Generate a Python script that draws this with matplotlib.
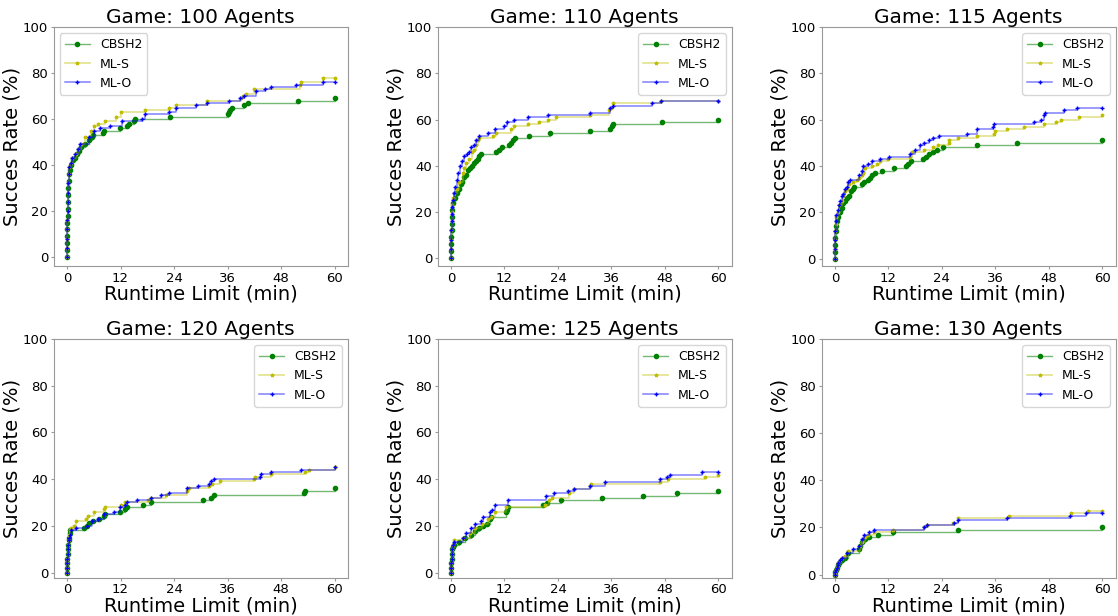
import matplotlib
matplotlib.use('Agg')
import matplotlib.pyplot as plt

# agent counts for each panel
agents = [100, 110, 115, 120, 125, 130]

# success rate (%) vs runtime (min)
# ---- 100 agents
t_cb_100 = [0, 0.02, 0.04, 0.06, 0.08, 0.1, 0.12, 0.15, 0.18, 0.22, 0.27, 0.33, 0.4, 0.6, 0.9, 1.3, 1.7, 2.2, 2.7, 3.2, 4.0, 4.9, 5.6, 5.9, 8.0, 8.3, 11.8, 13.4, 14.0, 15.0, 15.3, 23.1, 36.0, 36.3, 36.6, 36.9, 39.8, 40.5, 51.9, 60]
v_cb_100 = [0, 3, 6, 9, 12, 15, 18, 21, 24, 27, 30, 33, 36, 38, 40, 42, 43, 45, 46, 48, 49, 51, 52, 53, 54, 55, 56, 57, 58, 59, 60, 61, 62, 63, 64, 65, 66, 67, 68, 69]
t_ms_100 = [0, 0.02, 0.05, 0.08, 0.1, 0.13, 0.17, 0.22, 0.28, 0.35, 0.5, 0.8, 1.2, 1.9, 2.5, 3.2, 4.1, 5.3, 6.0, 6.9, 8.6, 10.9, 12.0, 17.6, 22.9, 24.4, 31.5, 39.0, 39.5, 40.2, 42.0, 52.2, 52.5, 57.4, 60]
v_ms_100 = [0, 4, 8, 12, 16, 20, 24, 28, 32, 36, 39, 41, 43, 45, 47, 49, 52, 55, 57, 58, 59, 61, 63, 64, 65, 66, 68, 69, 70, 71, 73, 75, 76, 78, 78]
t_mo_100 = [0, 0.02, 0.05, 0.08, 0.1, 0.13, 0.17, 0.22, 0.28, 0.35, 0.5, 0.8, 1.2, 1.8, 2.4, 3.0, 4.9, 6.0, 7.4, 9.7, 12.4, 16.9, 17.6, 22.9, 24.4, 28.9, 31.5, 36.4, 38.7, 39.8, 42.4, 44.3, 45.8, 51.4, 57.4, 60]
v_mo_100 = [0, 4, 8, 12, 16, 20, 24, 28, 32, 36, 39, 41, 43, 45, 47, 49, 52, 55, 56, 57, 59, 60, 62, 63, 65, 66, 67, 68, 69, 70, 72, 73, 74, 75, 76, 76]

# ---- 110 agents
t_cb_110 = [0, 0.03, 0.06, 0.1, 0.14, 0.18, 0.23, 0.3, 0.45, 0.8, 1.4, 1.8, 2.2, 2.5, 2.9, 3.3, 3.9, 4.3, 4.8, 5.2, 5.7, 6.0, 6.3, 6.7, 10.0, 10.8, 11.4, 13.1, 13.4, 14.0, 14.4, 17.4, 22.2, 31.1, 35.6, 36.2, 36.3, 47.4, 60]
v_cb_110 = [0, 3, 6, 9, 12, 15, 18, 21, 24, 26, 28, 30, 32, 33, 35, 36, 38, 39, 40, 41, 42, 43, 44, 45, 46, 47, 48, 49, 50, 51, 52, 53, 54, 55, 56, 57, 58, 59, 60]
t_ms_110 = [0, 0.02, 0.05, 0.08, 0.12, 0.16, 0.2, 0.35, 0.7, 1.3, 1.8, 2.6, 3.0, 3.3, 4.0, 4.8, 5.2, 5.7, 6.0, 6.3, 9.5, 10.1, 13.4, 14.2, 17.2, 19.8, 21.7, 23.6, 31.1, 35.4, 36.0, 36.3, 47.2, 60]
v_ms_110 = [0, 4, 8, 12, 16, 20, 23, 26, 28, 30, 33, 37, 39, 41, 43, 46, 47, 49, 51, 52, 53, 54, 56, 57, 58, 59, 60, 61, 62, 64, 65, 67, 68, 68]
t_mo_110 = [0, 0.02, 0.05, 0.08, 0.12, 0.16, 0.25, 0.4, 0.7, 1.0, 1.3, 1.6, 2.0, 2.5, 2.9, 3.5, 4.1, 4.6, 5.2, 5.6, 6.2, 8.2, 9.9, 11.8, 12.5, 14.2, 17.2, 21.7, 31.2, 35.6, 36.3, 45.2, 47.2, 60]
v_mo_110 = [0, 4, 8, 12, 16, 19, 22, 25, 28, 31, 34, 37, 40, 42, 44, 45, 46, 48, 49, 51, 53, 54, 56, 57, 59, 60, 61, 62, 63, 65, 66, 67, 68, 68]

# ---- 115 agents
t_cb_115 = [0, 0.03, 0.07, 0.12, 0.2, 0.3, 0.45, 0.75, 1.1, 1.5, 1.9, 2.2, 2.7, 3.2, 3.6, 4.0, 4.3, 6.0, 6.5, 7.5, 7.9, 8.3, 9.0, 10.5, 13.3, 16.0, 16.5, 17.0, 19.7, 20.5, 21.2, 22.1, 22.9, 24.2, 31.8, 40.9, 60]
v_cb_115 = [0, 3, 6, 9, 12, 14, 16, 18, 20, 22, 24, 25, 26, 27, 29, 30, 31, 32, 33, 34, 35, 36, 37, 38, 39, 40, 41, 42, 43, 44, 45, 46, 47, 48, 49, 50, 51]
t_ms_115 = [0, 0.03, 0.07, 0.12, 0.2, 0.35, 0.6, 1.0, 1.5, 1.9, 2.2, 2.6, 3.2, 4.0, 5.0, 5.5, 6.0, 6.3, 6.8, 8.3, 9.4, 10.0, 12.0, 16.9, 17.3, 19.9, 22.0, 23.1, 25.5, 25.6, 27.6, 31.8, 35.7, 36.0, 38.7, 42.4, 46.8, 49.5, 50.8, 54.8, 60]
v_ms_115 = [0, 4, 8, 12, 15, 18, 20, 23, 25, 27, 29, 30, 32, 33, 34, 35, 36, 37, 39, 40, 41, 42, 43, 44, 46, 47, 48, 49, 50, 51, 52, 53, 54, 55, 56, 57, 58, 59, 60, 61, 62]
t_mo_115 = [0, 0.03, 0.07, 0.12, 0.2, 0.35, 0.6, 0.9, 1.2, 1.5, 1.8, 2.2, 2.6, 3.0, 3.4, 5.3, 6.0, 6.4, 7.5, 8.3, 10.1, 12.2, 16.9, 18.0, 19.0, 20.0, 21.2, 22.1, 23.3, 29.6, 31.9, 35.5, 35.7, 44.7, 46.3, 46.9, 47.1, 51.4, 54.3, 60]
v_mo_115 = [0, 4, 8, 12, 16, 19, 21, 23, 25, 27, 28, 30, 31, 33, 34, 36, 38, 40, 41, 42, 43, 44, 45, 47, 49, 50, 51, 52, 53, 54, 56, 57, 58, 59, 60, 62, 63, 64, 65, 65]

# ---- 120 agents
t_cb_120 = [0, 0.03, 0.06, 0.1, 0.15, 0.2, 0.27, 0.35, 0.45, 0.6, 0.75, 3.7, 4.5, 5.0, 5.8, 7.1, 8.4, 8.6, 11.9, 13.1, 13.5, 17.1, 18.9, 30.6, 32.3, 32.9, 53.1, 53.4, 60]
v_cb_120 = [0, 2, 4, 6, 8, 10, 12, 14, 15, 17, 18, 19, 20, 21, 22, 23, 24, 25, 26, 27, 28, 29, 30, 31, 32, 33, 34, 35, 36]
t_ms_120 = [0, 0.03, 0.06, 0.1, 0.15, 0.2, 0.27, 0.35, 0.45, 0.6, 0.9, 1.5, 2.1, 4.3, 4.7, 6.0, 8.3, 8.5, 12.0, 13.1, 18.2, 18.9, 22.1, 26.9, 27.4, 31.9, 32.6, 34.4, 41.9, 42.2, 45.8, 53.4, 54.2, 60]
v_ms_120 = [0, 2, 4, 6, 8, 10, 12, 14, 16, 18, 19, 20, 22, 23, 24, 26, 27, 28, 29, 30, 31, 32, 33, 35, 36, 37, 38, 39, 40, 41, 42, 43, 44, 45]
t_mo_120 = [0, 0.03, 0.06, 0.1, 0.15, 0.2, 0.27, 0.35, 0.45, 0.6, 0.9, 1.9, 4.5, 5.6, 6.9, 8.3, 10.5, 11.9, 13.1, 13.5, 15.8, 18.8, 21.0, 22.9, 27.0, 29.3, 31.9, 32.4, 33.0, 43.2, 43.4, 45.8, 52.5, 60]
v_mo_120 = [0, 2, 4, 6, 8, 10, 12, 14, 15, 16, 18, 19, 20, 22, 23, 25, 26, 28, 29, 30, 31, 32, 33, 34, 36, 37, 38, 39, 40, 41, 42, 43, 44, 45]

# ---- 125 agents
t_cb_125 = [0, 0.05, 0.1, 0.15, 0.2, 0.3, 0.5, 0.7, 1.8, 3.2, 4.4, 5.5, 6.2, 7.1, 8.0, 8.7, 9.0, 12.4, 12.5, 12.7, 20.7, 21.5, 24.7, 33.9, 43.1, 50.6, 60]
v_cb_125 = [0, 2, 4, 6, 8, 10, 11, 12, 13, 15, 16, 18, 19, 20, 21, 23, 24, 26, 27, 28, 29, 30, 31, 32, 33, 34, 35]
t_ms_125 = [0, 0.05, 0.1, 0.15, 0.2, 0.3, 0.45, 0.7, 2.7, 4.2, 5.5, 6.9, 8.2, 9.0, 9.9, 12.3, 21.2, 22.1, 22.7, 26.4, 27.7, 31.1, 31.5, 46.9, 48.7, 57.0, 60]
v_ms_125 = [0, 2, 4, 6, 8, 10, 12, 14, 15, 17, 19, 21, 23, 24, 26, 28, 29, 31, 32, 34, 36, 37, 38, 39, 40, 41, 42]
t_mo_125 = [0, 0.05, 0.1, 0.15, 0.2, 0.3, 0.45, 0.7, 2.6, 3.3, 4.4, 5.4, 6.7, 7.1, 8.7, 9.3, 9.9, 12.7, 21.3, 23.2, 26.2, 27.7, 31.1, 34.5, 47.0, 48.4, 49.1, 56.2, 60]
v_mo_125 = [0, 2, 4, 6, 8, 10, 12, 13, 15, 17, 19, 21, 22, 24, 26, 27, 29, 31, 33, 34, 35, 36, 37, 39, 40, 41, 42, 43, 43]

# ---- 130 agents
t_cb_130 = [0, 0.1, 0.2, 0.4, 0.6, 0.98, 1.5, 2.2, 3.0, 5.3, 5.6, 6.0, 6.8, 7.7, 9.6, 13.1, 27.5, 60]
v_cb_130 = [0, 1, 2, 3, 4, 5, 6, 7, 9, 11, 12, 14, 15, 16, 17, 18, 19, 20]
t_ms_130 = [0, 0.1, 0.2, 0.4, 0.6, 0.8, 1.1, 1.6, 2.2, 3.0, 5.6, 6.0, 6.8, 7.5, 8.8, 13.1, 19.9, 20.6, 26.5, 27.5, 39.0, 52.9, 56.7, 60]
v_ms_130 = [0, 1, 2, 3, 4, 5, 6, 7, 8, 10, 12, 14, 16, 17, 18, 19, 20, 21, 22, 24, 25, 26, 27, 27]
t_mo_130 = [0, 0.1, 0.2, 0.4, 0.6, 0.8, 1.1, 1.5, 2.6, 4.1, 5.5, 6.0, 6.5, 7.7, 8.8, 19.9, 20.6, 26.6, 27.5, 38.7, 52.8, 56.3, 60]
v_mo_130 = [0, 1, 2, 3, 4, 5, 6, 7, 9, 11, 12, 15, 17, 18, 19, 20, 21, 22, 23, 24, 25, 26, 26]

panels = [
    (t_cb_100, v_cb_100, t_ms_100, v_ms_100, t_mo_100, v_mo_100),
    (t_cb_110, v_cb_110, t_ms_110, v_ms_110, t_mo_110, v_mo_110),
    (t_cb_115, v_cb_115, t_ms_115, v_ms_115, t_mo_115, v_mo_115),
    (t_cb_120, v_cb_120, t_ms_120, v_ms_120, t_mo_120, v_mo_120),
    (t_cb_125, v_cb_125, t_ms_125, v_ms_125, t_mo_125, v_mo_125),
    (t_cb_130, v_cb_130, t_ms_130, v_ms_130, t_mo_130, v_mo_130),
]

fig, axes = plt.subplots(2, 3, figsize=(11.18, 6.16), dpi=100)
fig.subplots_adjust(left=0.048, right=0.998, top=0.956, bottom=0.062, wspace=0.305, hspace=0.305)

for i, ax in enumerate(axes.flat):
    tc, vc, ts, vs, to, vo = panels[i]
    ax.plot(tc, vc, drawstyle='steps-post', color=(0, 0.5, 0, 0.55), lw=1,
            marker='o', ms=3, mfc='green', mec='green', label='CBSH2')
    ax.plot(ts, vs, drawstyle='steps-post', color=(0.75, 0.75, 0, 0.45), lw=1.2,
            marker='*', ms=2.5, mfc='#bfbf00', mec='#bfbf00', label='ML-S')
    ax.plot(to, vo, drawstyle='steps-post', color=(0, 0, 1, 0.5), lw=1.1,
            marker='+', ms=2.5, mfc='blue', mec='blue', label='ML-O')

    ax.set_title('Game: %d Agents' % agents[i], fontsize=14.5, pad=2)
    ax.set_xlabel('Runtime Limit (min)', fontsize=14, labelpad=0)
    ax.set_ylabel('Succes Rate (%)', fontsize=14, labelpad=1)
    ax.set_xticks([0, 12, 24, 36, 48, 60])
    ax.set_yticks([0, 20, 40, 60, 80, 100])
    ax.set_ylim(top=100)
    ax.tick_params(labelsize=9.5, color='#999999', length=2.5, pad=1.5)
    for s in ax.spines.values():
        s.set_color('#999999')
    ax.legend(loc='upper left' if i == 0 else 'upper right', fontsize=9)

plt.savefig('out.png', dpi=100)
